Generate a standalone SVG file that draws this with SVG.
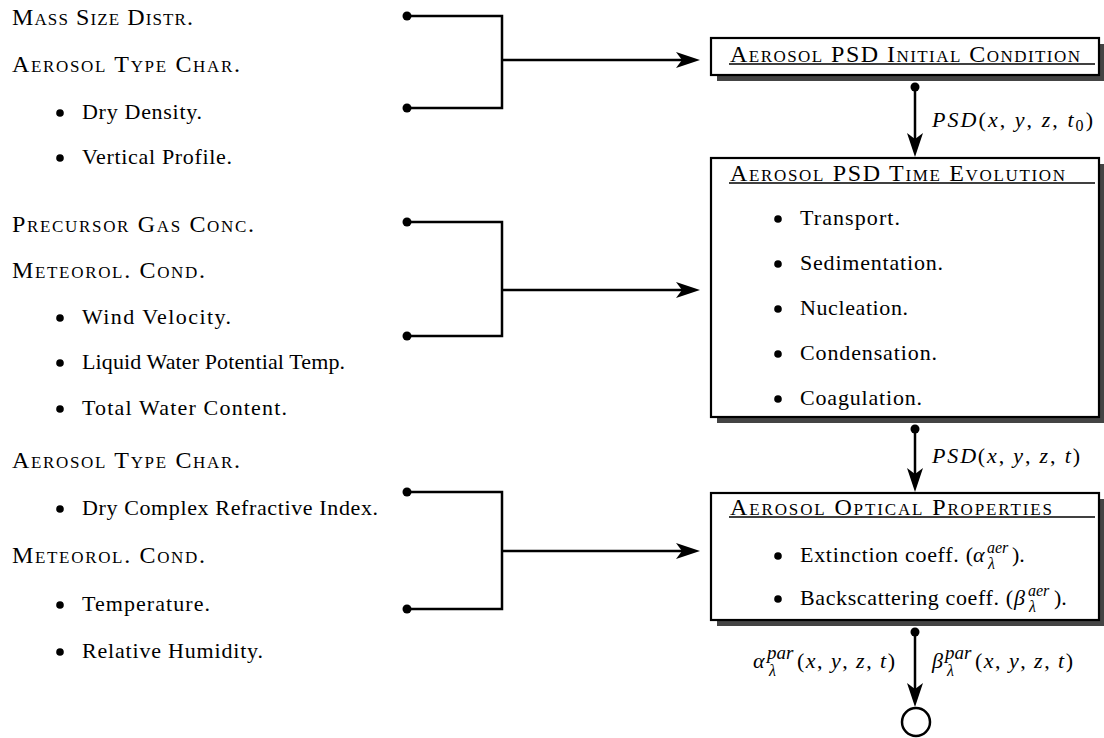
<svg xmlns="http://www.w3.org/2000/svg" width="1104" height="738" viewBox="0 0 1104 738">
<defs>
<style>
text{font-family:"Liberation Serif","Times New Roman",serif;font-size:22px;fill:#000}
.sc{font-variant:small-caps;font-size:24px}
.m{font-style:italic;font-size:22px}
.mr{font-size:22px}
.sm{font-size:16px}
.sp{font-size:19px}
.ln{fill:none;stroke:#000;stroke-width:2.5}
.box{fill:#fff;stroke:#000;stroke-width:2.2}
.sh{fill:#444}
.ul{stroke:#000;stroke-width:1.3}
.bul{fill:#000}
</style>
<marker id="arr" markerUnits="userSpaceOnUse" viewBox="0 0 24 18" markerWidth="24" markerHeight="18" refX="18" refY="9" orient="auto"><path d="M0,1 L24,9 L0,17 L6,9 Z" fill="#000"/></marker>
<marker id="dot" markerUnits="userSpaceOnUse" viewBox="-5 -5 10 10" markerWidth="10" markerHeight="10" refX="0" refY="0"><circle r="4.5" fill="#000"/></marker>
</defs>
<rect width="1104" height="738" fill="#fff"/>

<g id="inputs-initial">
<text x="12" y="25" class="sc" textLength="181" lengthAdjust="spacing">Mass Size Distr.</text>
<text x="12" y="72" class="sc" textLength="228" lengthAdjust="spacing">Aerosol Type Char.</text>
<circle class="bul" cx="60" cy="113" r="3.8"/>
<text x="82" y="119" textLength="120" lengthAdjust="spacing">Dry Density.</text>
<circle class="bul" cx="60" cy="158" r="3.8"/>
<text x="82" y="164" textLength="150" lengthAdjust="spacing">Vertical Profile.</text>
</g>

<g id="inputs-evolution">
<text x="12" y="232" class="sc" textLength="242" lengthAdjust="spacing">Precursor Gas Conc.</text>
<text x="12" y="278" class="sc" textLength="193" lengthAdjust="spacing">Meteorol. Cond.</text>
<circle class="bul" cx="60" cy="318" r="3.8"/>
<text x="82" y="324" textLength="149" lengthAdjust="spacing">Wind Velocity.</text>
<circle class="bul" cx="60" cy="363" r="3.8"/>
<text x="82" y="369" textLength="263" lengthAdjust="spacing">Liquid Water Potential Temp.</text>
<circle class="bul" cx="60" cy="409" r="3.8"/>
<text x="82" y="415" textLength="205" lengthAdjust="spacing">Total Water Content.</text>
</g>

<g id="inputs-optical">
<text x="12" y="468" class="sc" textLength="228" lengthAdjust="spacing">Aerosol Type Char.</text>
<circle class="bul" cx="60" cy="509" r="3.8"/>
<text x="82" y="515" textLength="296" lengthAdjust="spacing">Dry Complex Refractive Index.</text>
<text x="12" y="563" class="sc" textLength="193" lengthAdjust="spacing">Meteorol. Cond.</text>
<circle class="bul" cx="60" cy="605" r="3.8"/>
<text x="82" y="611" textLength="128" lengthAdjust="spacing">Temperature.</text>
<circle class="bul" cx="60" cy="652" r="3.8"/>
<text x="82" y="658" textLength="181" lengthAdjust="spacing">Relative Humidity.</text>
</g>

<g id="box-initial">
<rect class="sh" x="717" y="44" width="388" height="37"/>
<rect class="box" x="711" y="38" width="388" height="37"/>
<text x="730" y="62" class="sc" textLength="350" lengthAdjust="spacing">Aerosol PSD Initial Condition</text>
<line class="ul" x1="729" y1="64" x2="1095" y2="64"/>
</g>

<g id="box-evolution">
<rect class="sh" x="717" y="164" width="388" height="259"/>
<rect class="box" x="711" y="158" width="388" height="259"/>
<text x="730" y="181" class="sc" textLength="335" lengthAdjust="spacing">Aerosol PSD Time Evolution</text>
<line class="ul" x1="729" y1="183" x2="1095" y2="183"/>
<circle class="bul" cx="778" cy="219" r="3.8"/>
<text x="800" y="225" textLength="100" lengthAdjust="spacing">Transport.</text>
<circle class="bul" cx="778" cy="264" r="3.8"/>
<text x="800" y="270" textLength="143" lengthAdjust="spacing">Sedimentation.</text>
<circle class="bul" cx="778" cy="309" r="3.8"/>
<text x="800" y="315" textLength="108" lengthAdjust="spacing">Nucleation.</text>
<circle class="bul" cx="778" cy="354" r="3.8"/>
<text x="800" y="360" textLength="137" lengthAdjust="spacing">Condensation.</text>
<circle class="bul" cx="778" cy="399" r="3.8"/>
<text x="800" y="405" textLength="122" lengthAdjust="spacing">Coagulation.</text>
</g>

<g id="box-optical">
<rect class="sh" x="717" y="499" width="388" height="127"/>
<rect class="box" x="711" y="493" width="388" height="127"/>
<text x="730" y="515" class="sc" textLength="322" lengthAdjust="spacing">Aerosol Optical Properties</text>
<line class="ul" x1="729" y1="517" x2="1095" y2="517"/>
<circle class="bul" cx="778" cy="556" r="3.8"/>
<text x="800" y="562" textLength="173" lengthAdjust="spacing">Extinction coeff. (</text>
<text x="973" y="562" class="m">α</text>
<text x="987" y="553" class="m sm">aer</text>
<text x="988" y="569" class="m sm">λ</text>
<text x="1012" y="562">).</text>
<circle class="bul" cx="778" cy="599" r="3.8"/>
<text x="800" y="605" textLength="213" lengthAdjust="spacing">Backscattering coeff. (</text>
<text x="1014" y="605" class="m">β</text>
<text x="1028" y="596" class="m sm">aer</text>
<text x="1029" y="612" class="m sm">λ</text>
<text x="1054" y="605">).</text>
</g>

<g id="output">
<circle cx="916" cy="722" r="14" fill="#fff" stroke="#000" stroke-width="2.5"/>
</g>

<g id="connectors">
<path class="ln" d="M407,16 H502 V108 H407" marker-start="url(#dot)" marker-end="url(#dot)"/>
<path class="ln" d="M502,60 H694" marker-end="url(#arr)"/>
<path class="ln" d="M407,222 H502 V336 H407" marker-start="url(#dot)" marker-end="url(#dot)"/>
<path class="ln" d="M502,290 H694" marker-end="url(#arr)"/>
<path class="ln" d="M407,492 H502 V609 H407" marker-start="url(#dot)" marker-end="url(#dot)"/>
<path class="ln" d="M502,551 H694" marker-end="url(#arr)"/>
<path class="ln" d="M915,87 V151" marker-start="url(#dot)" marker-end="url(#arr)"/>
<path class="ln" d="M915,429 V486" marker-start="url(#dot)" marker-end="url(#arr)"/>
<path class="ln" d="M915,632 V701" marker-start="url(#dot)" marker-end="url(#arr)"/>
</g>

<g id="labels">
<text x="932" y="127" textLength="161" lengthAdjust="spacing"><tspan class="m">PSD</tspan><tspan class="mr">(</tspan><tspan class="m">x</tspan><tspan class="mr">, </tspan><tspan class="m">y</tspan><tspan class="mr">, </tspan><tspan class="m">z</tspan><tspan class="mr">, </tspan><tspan class="m">t</tspan><tspan class="sm" dy="4">0</tspan><tspan class="mr" dy="-4">)</tspan></text>
<text x="932" y="463" textLength="148" lengthAdjust="spacing"><tspan class="m">PSD</tspan><tspan class="mr">(</tspan><tspan class="m">x</tspan><tspan class="mr">, </tspan><tspan class="m">y</tspan><tspan class="mr">, </tspan><tspan class="m">z</tspan><tspan class="mr">, </tspan><tspan class="m">t</tspan><tspan class="mr">)</tspan></text>
<text x="753" y="668" class="m">α</text>
<text x="767" y="659" class="m sp">par</text>
<text x="769" y="676" class="m sm">λ</text>
<text x="797" y="668" textLength="98" lengthAdjust="spacing"><tspan class="mr">(</tspan><tspan class="m">x</tspan><tspan class="mr">, </tspan><tspan class="m">y</tspan><tspan class="mr">, </tspan><tspan class="m">z</tspan><tspan class="mr">, </tspan><tspan class="m">t</tspan><tspan class="mr">)</tspan></text>
<text x="932" y="668" class="m">β</text>
<text x="945" y="659" class="m sp">par</text>
<text x="947" y="676" class="m sm">λ</text>
<text x="975" y="668" textLength="98" lengthAdjust="spacing"><tspan class="mr">(</tspan><tspan class="m">x</tspan><tspan class="mr">, </tspan><tspan class="m">y</tspan><tspan class="mr">, </tspan><tspan class="m">z</tspan><tspan class="mr">, </tspan><tspan class="m">t</tspan><tspan class="mr">)</tspan></text>
</g>
</svg>
